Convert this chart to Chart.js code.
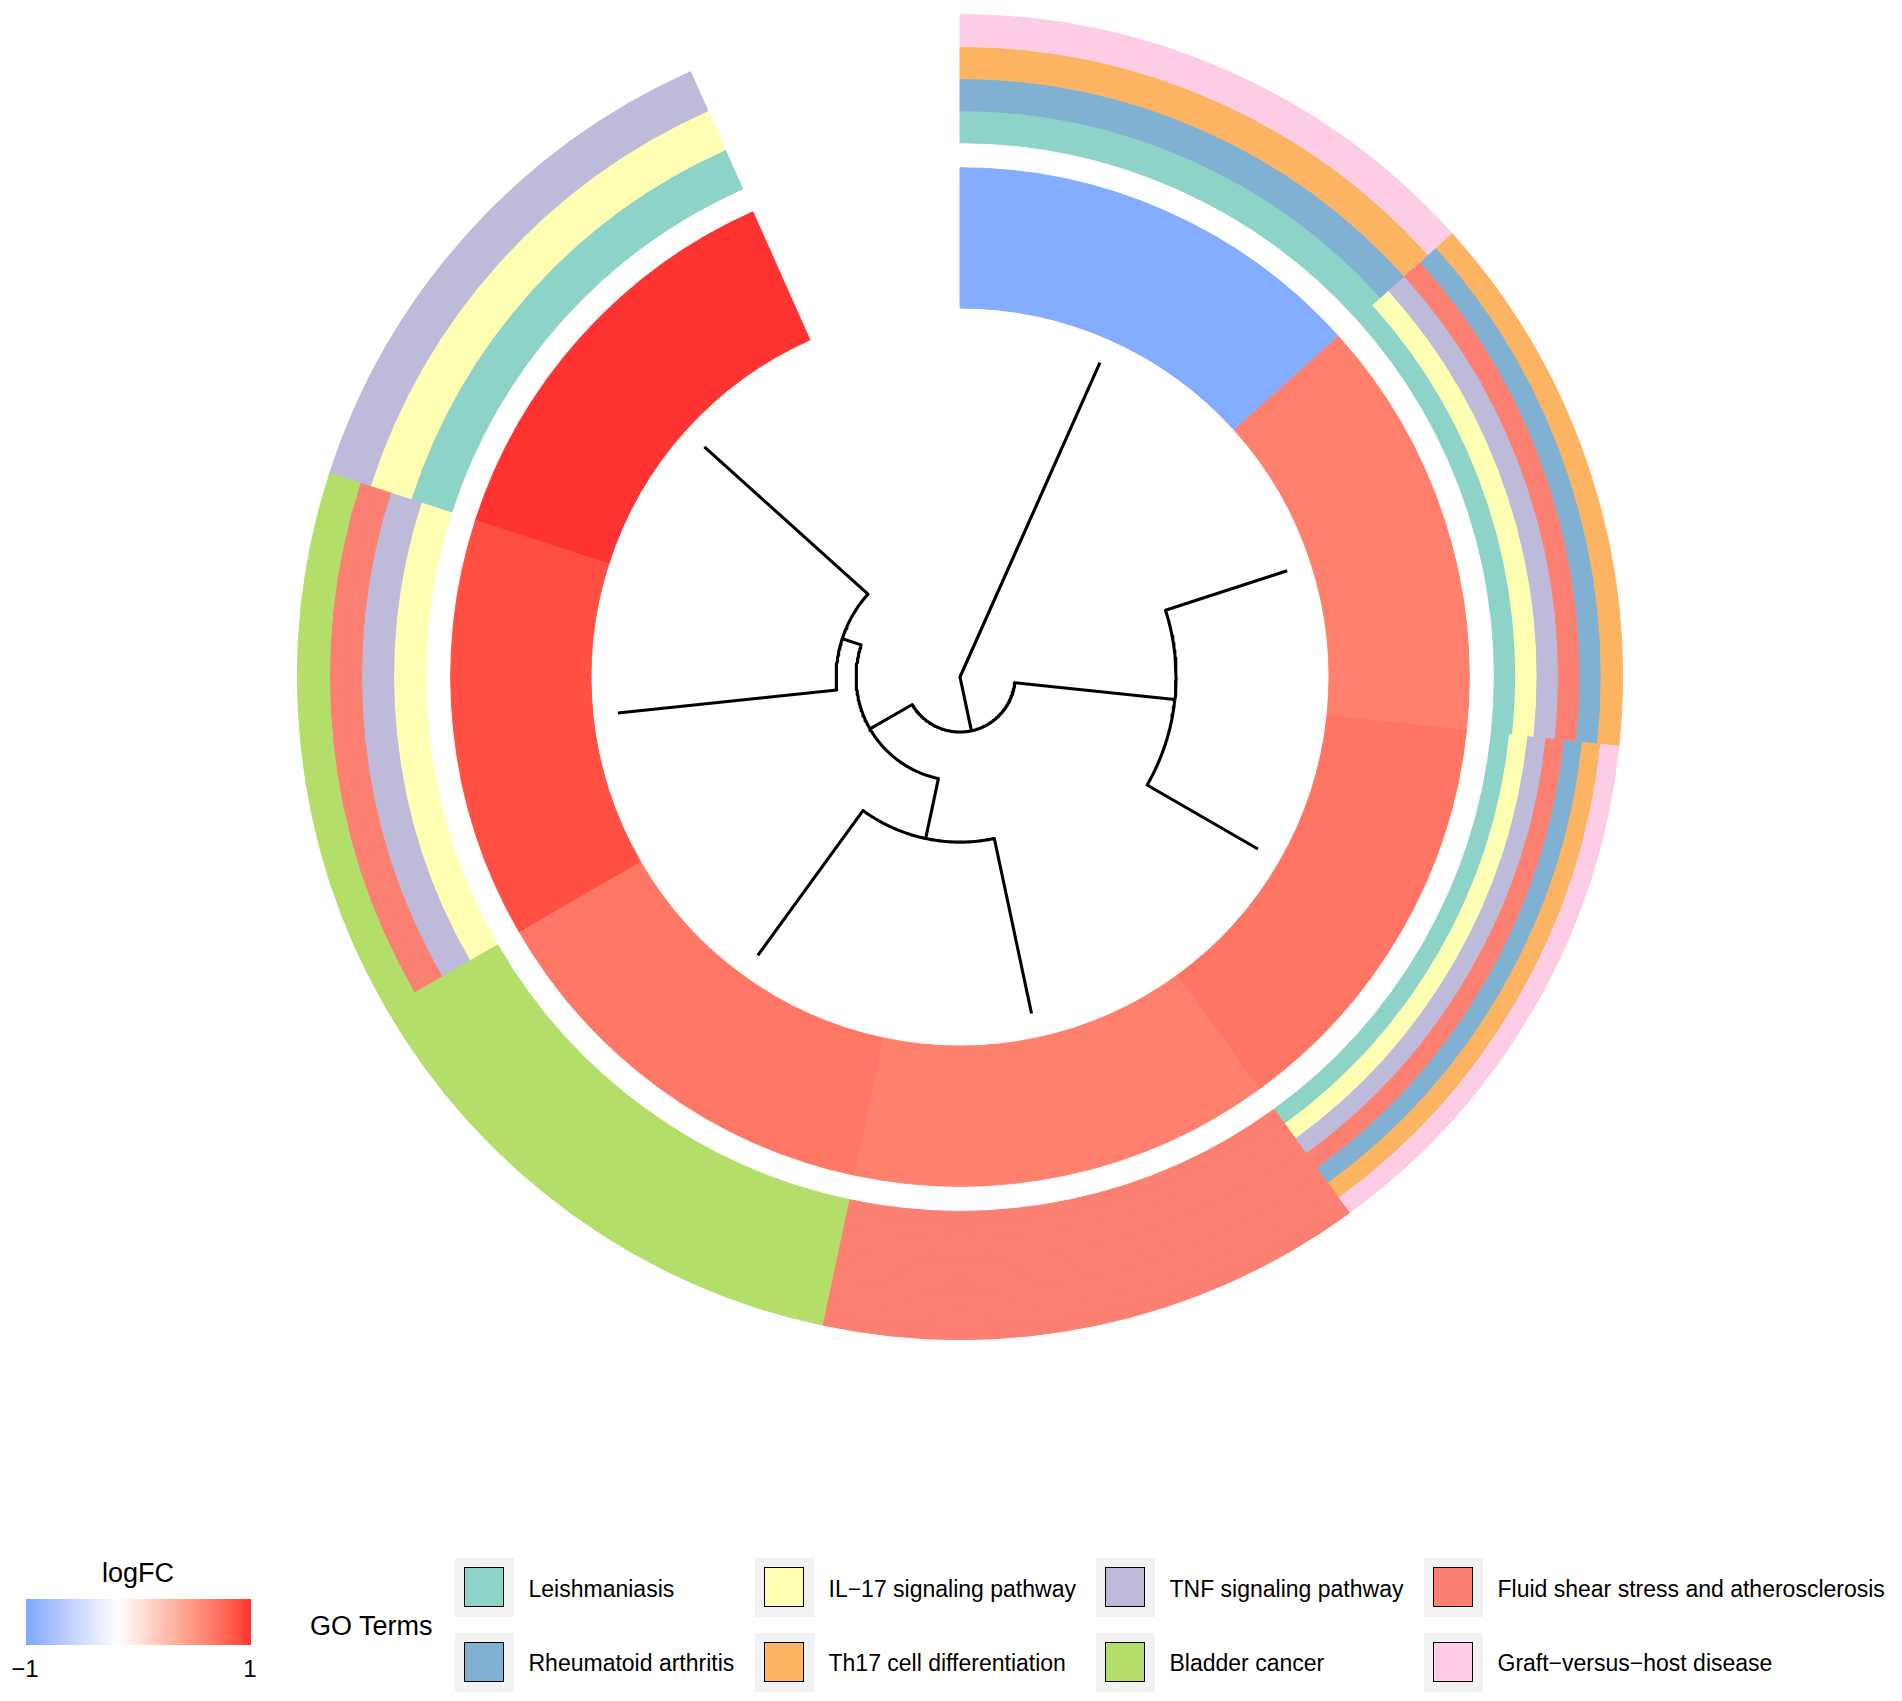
<!DOCTYPE html>
<html>
<head>
<meta charset="utf-8">
<script src="https://cdn.jsdelivr.net/npm/chart.js@4.4.1/dist/chart.umd.min.js"></script>
<style>
  html, body { margin: 0; padding: 0; background: #ffffff; }
  body { width: 1902px; height: 1701px; position: relative; overflow: hidden;
         font-family: "Liberation Sans", Arial, Helvetica, sans-serif; color: #000; }
  #ring, #tree { position: absolute; left: 297px; top: 14px; }
  .t { position: absolute; white-space: nowrap; line-height: 1; }
  .keybg { position: absolute; width: 59px; height: 59px; background: #f2f2f2; }
  .keybox { position: absolute; left: 9px; top: 9px; width: 38px; height: 38px; border: 1.6px solid #000; }
  #bar { position: absolute; left: 26px; top: 1599px; width: 225px; height: 46px; }
</style>
</head>
<body>
<canvas id="ring" width="1326" height="1326"></canvas>
<canvas id="tree" width="1326" height="1326"></canvas>
<div id="legend"></div>
<script>
// ---------------- data ----------------
const genes = ['Gene 1', 'Gene 2', 'Gene 3', 'Gene 4', 'Gene 5', 'Gene 6', 'Gene 7'];
const logFC = [-0.96, 0.63, 0.69, 0.63, 0.675, 0.88, 0.99];

const termNames = [
  'Leishmaniasis',
  'IL\u221217 signaling pathway',
  'TNF signaling pathway',
  'Fluid shear stress and atherosclerosis',
  'Rheumatoid arthritis',
  'Th17 cell differentiation',
  'Bladder cancer',
  'Graft\u2212versus\u2212host disease'
];
const termColors = ['#8DD3C7', '#FFFFB3', '#BEBADA', '#FB8072', '#80B1D3', '#FDB462', '#B3DE69', '#FCCDE5'];

// terms of each gene, listed from the inner stripe outwards (indices into termNames)
const geneTerms = [
  [0, 4, 5, 7],
  [0, 1, 2, 3, 4, 5],
  [0, 1, 2, 3, 4, 5, 7],
  [3],
  [6],
  [1, 2, 3, 6],
  [0, 1, 2]
];

// hierarchical clustering (hclust style: negative = leaf, positive = earlier merge)
const mergeLeft   = [-2, -4, -6, 2, 1, -1];
const mergeRight  = [-3, -5, -7, 3, 4, 5];
const mergeHeight = [3.72, 5.20, 6.40, 6.98, 8.40, 10.0];

// colour scale of logFC
const lfcTicks = [-1, 1];
const lfcTickLabels = ['\u22121', '1'];
const lfcLow = [124, 168, 255], lfcMid = [255, 255, 255], lfcHigh = [255, 48, 48];
const lfcMidpoint = -0.18;

// legend arrangement (row 1 / row 2 of each column)
const legendColumns = [[0, 4], [1, 5], [2, 6], [3, 7]];

const openGap = 0.5; // empty slot (in gene units) at the top of the circle

// ---------------- colour helpers (Lab interpolation) ----------------
function toLin(c) { c /= 255; return c <= 0.04045 ? c / 12.92 : Math.pow((c + 0.055) / 1.055, 2.4); }
function fromLin(c) { c = c <= 0.0031308 ? 12.92 * c : 1.055 * Math.pow(c, 1 / 2.4) - 0.055; return Math.round(Math.max(0, Math.min(1, c)) * 255); }
function rgb2lab(rgb) {
  const R = toLin(rgb[0]), G = toLin(rgb[1]), B = toLin(rgb[2]);
  const X = (0.4124 * R + 0.3576 * G + 0.1805 * B) / 0.95047;
  const Y = (0.2126 * R + 0.7152 * G + 0.0722 * B);
  const Z = (0.0193 * R + 0.1192 * G + 0.9505 * B) / 1.08883;
  const f = t => t > 216 / 24389 ? Math.cbrt(t) : (24389 / 27 * t + 16) / 116;
  const fx = f(X), fy = f(Y), fz = f(Z);
  return [116 * fy - 16, 500 * (fx - fy), 200 * (fy - fz)];
}
function lab2rgb(lab) {
  const fy = (lab[0] + 16) / 116, fx = fy + lab[1] / 500, fz = fy - lab[2] / 200;
  const fi = t => t * t * t > 216 / 24389 ? t * t * t : (116 * t - 16) / (24389 / 27);
  const X = fi(fx) * 0.95047, Y = fi(fy), Z = fi(fz) * 1.08883;
  return [fromLin(3.2406 * X - 1.5372 * Y - 0.4986 * Z),
          fromLin(-0.9689 * X + 1.8758 * Y + 0.0415 * Z),
          fromLin(0.0557 * X - 0.2040 * Y + 1.0570 * Z)];
}
const labLow = rgb2lab(lfcLow), labMid = rgb2lab(lfcMid), labHigh = rgb2lab(lfcHigh);
function lfcColor(v) {
  v = Math.max(lfcTicks[0], Math.min(lfcTicks[1], v));
  let a, b, t;
  if (v <= lfcMidpoint) { a = labMid; b = labLow; t = (lfcMidpoint - v) / (lfcMidpoint - lfcTicks[0]); }
  else { a = labMid; b = labHigh; t = (v - lfcMidpoint) / (lfcTicks[1] - lfcMidpoint); }
  const c = lab2rgb([0, 1, 2].map(i => a[i] + (b[i] - a[i]) * t));
  return 'rgb(' + c.join(',') + ')';
}

// ---------------- ring (doughnut) ----------------
const nG = genes.length;
const slotValues = genes.map(() => 1).concat([openGap]);
const CLEAR = 'rgba(0,0,0,0)';
const termRingW = 128, gapRingW = 25, lfcRingW = 140, innerCut = 369;

let bnd = [0, 1];
geneTerms.forEach(ts => { for (let k = 1; k < ts.length; k++) bnd.push(k / ts.length); });
bnd = [...new Set(bnd.map(b => Math.round(b * 1e9) / 1e9))].sort((a, b) => a - b);

const ringSets = [];
for (let i = bnd.length - 2; i >= 0; i--) {            // outermost stripe first
  const lo = bnd[i], hi = bnd[i + 1], mid = (lo + hi) / 2;
  const cols = geneTerms.map(ts => termColors[ts[Math.floor(mid * ts.length)]]).concat([CLEAR]);
  ringSets.push({
    data: slotValues.slice(), weight: termRingW * (hi - lo),
    backgroundColor: cols, borderColor: cols,
    borderWidth: cols.map((c, j) => j < nG ? 1 : 0)
  });
}
ringSets.push({ data: slotValues.slice(), weight: gapRingW, backgroundColor: CLEAR, borderColor: CLEAR, borderWidth: 0 });
const lfcCols = logFC.map(lfcColor).concat([CLEAR]);
ringSets.push({
  data: slotValues.slice(), weight: lfcRingW,
  backgroundColor: lfcCols, borderColor: lfcCols,
  borderWidth: lfcCols.map((c, j) => j < nG ? 1 : 0)
});

new Chart(document.getElementById('ring'), {
  type: 'doughnut',
  data: { labels: genes.concat(['']), datasets: ringSets },
  options: {
    responsive: false, animation: false, events: [],
    cutout: innerCut, rotation: 0, circumference: 360, spacing: 0,
    layout: { padding: 0 },
    elements: { arc: { offset: 0, hoverOffset: 0, hoverBorderWidth: 0, borderAlign: 'center' } },
    plugins: { legend: { display: false }, tooltip: { enabled: false } }
  }
});

// ---------------- dendrogram (scatter lines in polar layout) ----------------
const half = 663;
const rLeaf = 344;
const slotDeg = 360 / (nG + openGap);
const hMax = Math.max(...mergeHeight);
const radiusOf = h => rLeaf * (1 - h / hMax);
const angleOf = x => (x - 0.5) * slotDeg * Math.PI / 180;
const pt = (x, h) => ({ x: radiusOf(h) * Math.sin(angleOf(x)), y: radiusOf(h) * Math.cos(angleOf(x)) });

const nodeX = [];
const info = c => c < 0 ? { x: -c, h: 0 } : { x: nodeX[c - 1], h: mergeHeight[c - 1] };
const treeSets = [];
mergeLeft.forEach((l, i) => {
  const L = info(l), R = info(mergeRight[i]), h = mergeHeight[i];
  nodeX[i] = (L.x + R.x) / 2;
  const path = [pt(L.x, L.h), pt(L.x, h)];
  const steps = Math.max(2, Math.ceil(Math.abs(R.x - L.x) * slotDeg));
  for (let s = 1; s < steps; s++) path.push(pt(L.x + (R.x - L.x) * s / steps, h));
  path.push(pt(R.x, h), pt(R.x, R.h));
  treeSets.push({ data: path, showLine: true, borderColor: '#000', borderWidth: 3.1,
                  pointRadius: 0, fill: false, tension: 0, borderJoinStyle: 'round' });
});

new Chart(document.getElementById('tree'), {
  type: 'scatter',
  data: { datasets: treeSets },
  options: {
    responsive: false, animation: false, events: [],
    layout: { padding: 0 },
    plugins: { legend: { display: false }, tooltip: { enabled: false } },
    scales: {
      x: { type: 'linear', min: -half, max: half, display: false },
      y: { type: 'linear', min: -half, max: half, display: false }
    }
  }
});

// ---------------- legends ----------------
const lg = document.getElementById('legend');
function addText(txt, left, baseline, size, center) {
  const d = document.createElement('div');
  d.className = 't';
  d.textContent = txt;
  d.style.fontSize = size + 'px';
  d.style.left = left + 'px';
  d.style.top = (baseline - 0.8465 * size) + 'px';
  if (center) d.style.transform = 'translateX(-50%)';
  lg.appendChild(d);
}
// colour bar
const bar = document.createElement('div');
bar.id = 'bar';
const stops = [];
for (let k = 0; k <= 40; k++) {
  const v = lfcTicks[0] + (lfcTicks[1] - lfcTicks[0]) * k / 40;
  stops.push(lfcColor(v) + ' ' + (k * 2.5) + '%');
}
bar.style.background = 'linear-gradient(to right,' + stops.join(',') + ')';
lg.appendChild(bar);
addText('logFC', 138, 1583, 27, true);
addText(lfcTickLabels[0], 25, 1677, 24, true);
addText(lfcTickLabels[1], 250, 1677, 24, true);

addText('GO Terms', 310, 1636, 27, false);
const colLeft = [454.5, 754.5, 1095.5, 1423.5];
const rowTop = [1558, 1633];
const rowBase = [1597, 1671];
legendColumns.forEach((col, ci) => {
  col.forEach((ti, ri) => {
    const bg = document.createElement('div');
    bg.className = 'keybg';
    bg.style.left = colLeft[ci] + 'px';
    bg.style.top = rowTop[ri] + 'px';
    const bx = document.createElement('div');
    bx.className = 'keybox';
    bx.style.background = termColors[ti];
    bg.appendChild(bx);
    lg.appendChild(bg);
    addText(termNames[ti], colLeft[ci] + 74, rowBase[ri], 23, false);
  });
});
</script>
</body>
</html>
